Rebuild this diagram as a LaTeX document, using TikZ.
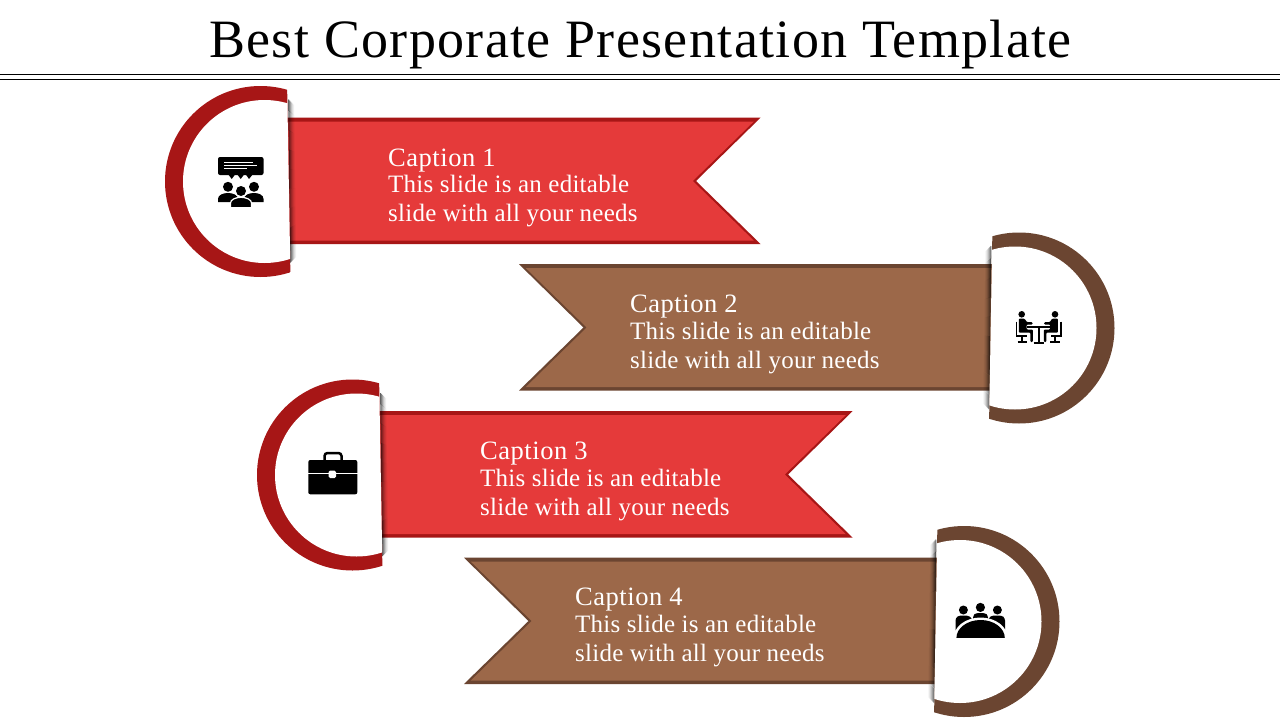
\documentclass[tikz,border=0pt]{standalone}
\usepackage{fontspec}
\setmainfont{Liberation Serif}
\newfontfamily\titlefont[LetterSpace=2.5]{Liberation Serif}
\newfontfamily\capfont[LetterSpace=2]{Liberation Serif}
\newfontfamily\bodyfont[LetterSpace=1]{Liberation Serif}
\definecolor{redfill}{HTML}{E53A3A}
\definecolor{reddark}{HTML}{A71616}
\definecolor{brownfill}{HTML}{9C6849}
\definecolor{browndark}{HTML}{6B4531}
\usetikzlibrary{calc}
\tikzset{
  titletext/.style={anchor=base,inner sep=0pt,font=\titlefont\fontsize{54}{54}\selectfont,text=black},
  captext/.style={anchor=base west,inner sep=0pt,font=\capfont\fontsize{26.5}{29}\selectfont,text=white},
  bodytext/.style={anchor=west,inner sep=0pt,align=left,font=\bodyfont\fontsize{25}{29}\selectfont,text=white},
  iconink/.style={fill=black,draw=none}
}
% ribbon and half disc, in the coordinates of the first (top left) one
\newcommand{\ribbonshape}[2]{%
  \fill[#2] (270,117.7) -- (760.5,117.7) -- (696,181) -- (760.5,244) -- (270,244) -- cycle;
  \fill[#1] (270,121.5) -- (753.8,121.5) -- (692.8,181) -- (753.8,240.6) -- (270,240.6) -- cycle;
  \foreach \i/\o in {0.5/0.62,1.5/0.46,2.5/0.32,3.5/0.20,4.5/0.11,5.5/0.05}{
    \draw[black,opacity=\o,line width=1pt] ($(288.1,99)+(\i,\i)$) -- ($(290.2,263)+(\i,-\i)$);
  }
  \begin{scope}
    \clip (287,80) -- (290.6,285) -- (100,285) -- (100,80) -- cycle;
    \fill[#2] (260.5,181.5) circle[radius=95.5];
    \fill[white] (264.5,181.5) circle[radius=81.5];
  \end{scope}
}
\begin{document}
\begin{tikzpicture}[x=1pt,y=-1pt]
\useasboundingbox (0,0) rectangle (1280,720);
\fill[white] (0,0) rectangle (1280,720);
% title
\node[titletext] (title) at (640.5,57) {Best Corporate Presentation Template};
\draw[black,line width=1.3pt] (0,74.5) -- (1280,74.5);
\draw[black,line width=1.3pt] (0,79.4) -- (1280,79.4);
% ribbons
\ribbonshape{redfill}{reddark}
\begin{scope}[xshift=92pt,yshift=-293.5pt]
  \ribbonshape{redfill}{reddark}
\end{scope}
\begin{scope}[xshift=1279.5pt,yshift=-146.5pt,xscale=-1]
  \ribbonshape{brownfill}{browndark}
\end{scope}
\begin{scope}[xshift=1224.5pt,yshift=-440pt,xscale=-1]
  \ribbonshape{brownfill}{browndark}
\end{scope}
% texts
\node[captext] (cap1) at (388,166) {Caption 1};
\node[bodytext] (body1) at (388,201.5) {This slide is an editable\\slide with all your needs};
\node[captext] (cap2) at (630,312.5) {Caption 2};
\node[bodytext] (body2) at (630,348) {This slide is an editable\\slide with all your needs};
\node[captext] (cap3) at (480,459.5) {Caption 3};
\node[bodytext] (body3) at (480,495) {This slide is an editable\\slide with all your needs};
\node[captext] (cap4) at (575,605.5) {Caption 4};
\node[bodytext] (body4) at (575,641) {This slide is an editable\\slide with all your needs};
% icon 1: audience and speech bubble
\fill[iconink,rounded corners=2pt] (218,157) rectangle (263.5,175);
\fill[iconink] (228,174) -- (235.5,174) -- (231.7,179) -- cycle;
\fill[iconink] (237,174) -- (244.5,174) -- (240.7,179) -- cycle;
\fill[iconink] (245.5,174) -- (253,174) -- (249,179) -- cycle;
\draw[white,line width=0.9pt] (224,162.5) -- (253,162.5);
\draw[white,line width=0.9pt] (224,165.5) -- (257,165.5);
\draw[white,line width=0.9pt] (224,168.5) -- (247,168.5);
\fill[iconink] (228,186.8) circle[radius=5];
\fill[iconink] (254,186.8) circle[radius=5];
\fill[iconink] (218,202) -- (218,199) .. controls (218,195) and (223,193) .. (228,193) .. controls (233,193) and (238,195) .. (238,199) -- (238,202) -- cycle;
\fill[iconink] (244,202) -- (244,199) .. controls (244,195) and (249,193) .. (254,193) .. controls (259,193) and (263.5,195) .. (263.5,199) -- (263.5,202) -- cycle;
\fill[white] (241,191) circle[radius=6.3];
\fill[iconink] (241,191) circle[radius=5];
\draw[white,line width=1.2pt,fill=black] (230.5,207.8) -- (230.5,203) .. controls (230.5,199.5) and (236,197.3) .. (241,197.3) .. controls (246,197.3) and (251.5,199.5) .. (251.5,203) -- (251.5,207.8) -- cycle;
% icon 2: two people at a table
\fill[iconink] (1021.7,314.3) circle[radius=3.3];
\fill[iconink] (1055,314.3) circle[radius=3.3];
\fill[iconink,rounded corners=1pt] (1018.8,318.6) -- (1024.5,318.6) -- (1027,322.2) -- (1032.5,322.2) -- (1032.5,324.6) -- (1026.5,324.6) -- (1026.5,329.5) -- (1032.8,329.5) -- (1032.8,342) -- (1030.4,342) -- (1030.4,332.6) -- (1018.8,332.6) -- cycle;
\fill[iconink,rounded corners=1pt] (1057.9,318.6) -- (1052.2,318.6) -- (1049.7,322.2) -- (1044.2,322.2) -- (1044.2,324.6) -- (1050.2,324.6) -- (1050.2,329.5) -- (1043.9,329.5) -- (1043.9,342) -- (1046.3,342) -- (1046.3,332.6) -- (1057.9,332.6) -- cycle;
\draw[black,line width=1.7pt] (1016.4,321.5) -- (1016.4,336) -- (1026.5,336) (1022,336) -- (1022,342);
\draw[black,line width=1.7pt] (1061,321.5) -- (1061,336) -- (1050.5,336) (1055,336) -- (1055,342);
\draw[black,line width=2pt] (1017.5,342.4) -- (1027,342.4) (1050,342.4) -- (1060,342.4);
\draw[black,line width=1.9pt] (1027,326.8) -- (1050.5,326.8);
\draw[black,line width=1.8pt] (1038.7,326.8) -- (1038.7,342.4);
\draw[black,line width=2pt] (1033.5,342.6) -- (1044,342.6);
% icon 3: briefcase
\draw[black,line width=2.5pt,rounded corners=3pt] (324.5,461) -- (324.5,453) -- (341.5,453) -- (341.5,461);
\fill[iconink,rounded corners=2pt] (308.3,460) rectangle (357.3,494.3);
\draw[white,line width=1.4pt] (308,473.4) -- (358,473.4);
\fill[white,rounded corners=1.5pt] (328.7,470.5) rectangle (336,478);
% icon 4: meeting table
\fill[iconink] (963.4,610) circle[radius=4.5];
\fill[iconink] (980.4,607.4) circle[radius=4.6];
\fill[iconink] (997.4,610) circle[radius=4.5];
\fill[iconink,rounded corners=2.5pt] (955.5,632) -- (955.5,618) -- (959,615.5) -- (968,615.5) -- (972,618) -- (972,632) -- cycle;
\fill[iconink,rounded corners=2.5pt] (988.5,632) -- (988.5,618) -- (992,615.5) -- (1001.5,615.5) -- (1005,618) -- (1005,632) -- cycle;
\fill[iconink,rounded corners=2.5pt] (973,622) -- (973,615.5) -- (976,613) -- (985,613) -- (988,615.5) -- (988,622) -- cycle;
\fill[white] (980.6,638) ellipse[x radius=27,y radius=20.5];
\fill[white] (955,638) rectangle (1006,642);
\begin{scope}
  \clip (950,610) rectangle (1010,637.8);
  \fill[black] (980.6,638) ellipse[x radius=24.2,y radius=18];
\end{scope}
\end{tikzpicture}
\end{document}
